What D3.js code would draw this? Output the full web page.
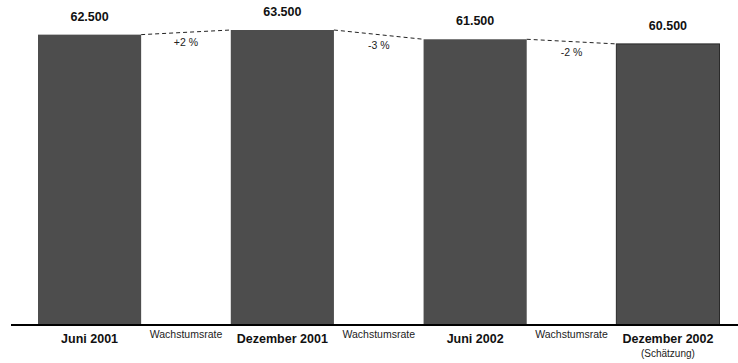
<!DOCTYPE html>
<html>
<head>
<meta charset="utf-8">
<script src="https://cdn.jsdelivr.net/npm/d3@7"></script>
<style>
  html, body { margin: 0; padding: 0; background: #fff; }
  svg { display: block; font-family: "Liberation Sans", Arial, Helvetica, sans-serif; }
</style>
</head>
<body>
<svg id="chart" width="738" height="363"></svg>
<script>
// Periods and their values
const categories = ["Juni 2001", "Dezember 2001", "Juni 2002", "Dezember 2002"];
const subLabels = ["", "", "", "(Schätzung)"];
const values = [62500, 63500, 61500, 60500];
const valueLabels = ["62.500", "63.500", "61.500", "60.500"];
// Growth rates between consecutive periods
const growthLabels = ["+2 %", "-3 %", "-2 %"];
const gapLabel = "Wachstumsrate";

const svg = d3.select("#chart");
const baseY = 324.5;

const x = d3.scaleBand()
  .domain(categories)
  .range([38, 719.5])
  .paddingInner(0.465)
  .paddingOuter(0);

const y = d3.scaleLinear()
  .domain([0, 63500])
  .range([baseY, 30]);

const barColor = "#4d4d4d";

// Bars
svg.append("g").selectAll("rect")
  .data(categories)
  .join("rect")
  .attr("x", d => x(d))
  .attr("y", (d, i) => y(values[i]))
  .attr("width", x.bandwidth())
  .attr("height", (d, i) => baseY - y(values[i]))
  .attr("fill", barColor)
  .attr("stroke", (d, i) => i === categories.length - 1 ? "#2a2a2a" : "none")
  .attr("stroke-width", 1);

// Value labels above bars
svg.append("g").selectAll("text")
  .data(categories)
  .join("text")
  .attr("x", d => x(d) + x.bandwidth() / 2)
  .attr("y", (d, i) => y(values[i]) - 14)
  .attr("text-anchor", "middle")
  .attr("font-size", "12.5px")
  .attr("font-weight", "bold")
  .attr("fill", "#111")
  .text((d, i) => valueLabels[i]);

// Dashed connectors between bar tops, with growth rates
const pairs = d3.range(categories.length - 1);
const connectors = svg.append("g");
pairs.forEach(i => {
  const x1 = x(categories[i]) + x.bandwidth();
  const y1 = y(values[i]);
  const x2 = x(categories[i + 1]);
  const y2 = y(values[i + 1]);
  connectors.append("line")
    .attr("x1", x1).attr("y1", y1)
    .attr("x2", x2).attr("y2", y2)
    .attr("stroke", "#222")
    .attr("stroke-width", 1)
    .attr("stroke-dasharray", "4,3");
  connectors.append("text")
    .attr("x", (x1 + x2) / 2)
    .attr("y", (y1 + y2) / 2 + 14)
    .attr("text-anchor", "middle")
    .attr("font-size", "10.5px")
    .attr("fill", "#222")
    .text(growthLabels[i]);
  // Gap label under the axis
  svg.append("text")
    .attr("x", (x1 + x2) / 2)
    .attr("y", 338)
    .attr("text-anchor", "middle")
    .attr("font-size", "10.5px")
    .attr("fill", "#222")
    .text(gapLabel);
});

// Baseline
svg.append("line")
  .attr("x1", 11).attr("x2", 738)
  .attr("y1", baseY + 0.5).attr("y2", baseY + 0.5)
  .attr("stroke", "#000")
  .attr("stroke-width", 2);

// Category labels
const catG = svg.append("g");
categories.forEach((c, i) => {
  const cx = x(c) + x.bandwidth() / 2;
  catG.append("text")
    .attr("x", cx)
    .attr("y", 343)
    .attr("text-anchor", "middle")
    .attr("font-size", "12.5px")
    .attr("font-weight", "bold")
    .attr("fill", "#111")
    .text(c);
  if (subLabels[i]) {
    catG.append("text")
      .attr("x", cx)
      .attr("y", 357)
      .attr("text-anchor", "middle")
      .attr("font-size", "10px")
      .attr("fill", "#222")
      .text(subLabels[i]);
  }
});
</script>
</body>
</html>
